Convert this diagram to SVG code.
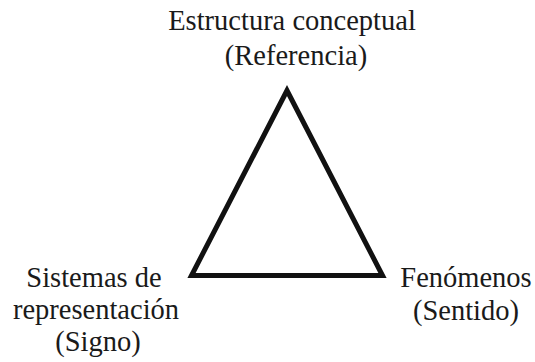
<svg xmlns="http://www.w3.org/2000/svg" width="535" height="362" viewBox="0 0 535 362">
<style>
text { font-family: "Liberation Serif", "Times New Roman", serif; font-size: 28.5px; fill: #1a1a1a; text-anchor: middle; }
.edge { fill: none; stroke: #111; stroke-width: 5; stroke-linejoin: miter; }
</style>
<rect width="535" height="362" fill="#fff"/>
<g id="connectors">
<polygon class="edge" points="287,90.5 191.5,275.5 382.5,275.5"/>
</g>
<g id="node-referencia">
<text x="292" y="30">Estructura conceptual</text>
<text x="296" y="65">(Referencia)</text>
</g>
<g id="node-signo">
<text x="94" y="287">Sistemas de</text>
<text x="96" y="319">representación</text>
<text x="98" y="351">(Signo)</text>
</g>
<g id="node-sentido">
<text x="466" y="287">Fenómenos</text>
<text x="466" y="320">(Sentido)</text>
</g>
</svg>
